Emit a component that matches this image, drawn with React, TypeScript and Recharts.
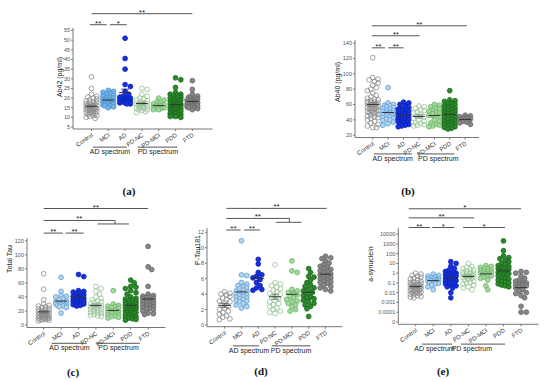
import { ScatterChart, Scatter, XAxis, YAxis, ReferenceLine, ErrorBar } from 'recharts'

const GROUPS = ['Control', 'MCI', 'AD', 'PD-NC', 'PD-MCI', 'PDD', 'FTD']

// Ab42 (pg/ml), one list per group in GROUPS order
const AB42_CONTROL = [31, 25, 22, 21, 20.5, 20, 19.5, 19, 18.5, 18, 18, 17.5, 17, 17, 16.5, 16.5, 16, 16, 15.5, 15.5, 15, 15, 15, 14.5, 14.5, 14, 14, 14, 13.5, 13.5, 13, 13, 12.5, 12.5, 12, 12, 11.5, 11, 11, 10.5, 10, 9.5]
const AB42_MCI = [24, 23.5, 23, 22.5, 22, 21.5, 21, 20.5, 20, 20, 19.5, 19, 19, 18.5, 18.5, 18, 18, 17.5, 17.5, 17, 17, 16.5, 16.5, 16, 16, 15.5, 15]
const AB42_AD = [51, 40.5, 35, 27, 26, 23.5, 22, 21, 20.5, 20, 20, 19.5, 19.5, 19, 19, 18.5, 18.5, 18, 18, 17.5, 17.5, 17, 17]
const AB42_PDNC = [25, 24.5, 22, 21, 20, 19.5, 19, 18.5, 18, 17.5, 17, 17, 16.5, 16, 16, 15.5, 15.5, 15, 15, 14.5, 14, 14, 13.5, 13, 12.5]
const AB42_PDMCI = [20, 19, 18, 17.5, 17, 16.5, 16, 16, 15.5, 15.5, 15, 15, 14.5, 14.5, 14, 14]
const AB42_PDD = [30.5, 29.5, 25.5, 23, 22, 22, 21.5, 21, 20.5, 20, 20, 19.5, 19, 19, 18.5, 18.5, 18, 18, 17.5, 17.5, 17, 17, 17, 16.5, 16.5, 16, 16, 16, 15.5, 15.5, 15, 15, 15, 14.5, 14.5, 14, 14, 14, 13.5, 13.5, 13, 13, 12.5, 12.5, 12, 12, 11.5, 11.5, 11, 11, 10.5, 10.5, 10]
const AB42_FTD = [29, 24.5, 22, 21, 20.5, 20, 20, 19.5, 19, 19, 18.5, 18.5, 18, 18, 17.5, 17.5, 17, 17, 16.5, 16.5, 16, 16, 15.5, 15.5, 15, 15, 14.5, 14]

// Ab40 (pg/ml)
const AB40_CONTROL = [121, 95, 93, 92, 90, 88, 85, 82, 80, 78, 75, 72, 70, 68, 67, 66, 65, 64, 63, 62, 62, 61, 60, 60, 59, 58, 58, 57, 56, 55, 55, 54, 53, 52, 52, 51, 50, 50, 49, 48, 47, 46, 45, 44, 43, 42, 40, 38, 36, 34, 32, 30, 30]
const AB40_MCI = [82, 62, 60, 59, 58, 57, 56, 55, 54, 53, 52, 51, 50, 50, 49, 48, 47, 46, 45, 44, 43, 42, 41, 40, 39, 37, 35, 33]
const AB40_AD = [63, 62, 60, 58, 56, 55, 54, 53, 52, 50, 49, 48, 47, 46, 45, 44, 43, 42, 41, 40, 40, 39, 38, 37, 36, 35, 34, 33, 32, 31]
const AB40_PDNC = [58, 57, 55, 53, 52, 50, 49, 47, 45, 44, 42, 40, 38, 36, 35, 34, 33, 32]
const AB40_PDMCI = [60, 59, 57, 55, 54, 52, 51, 50, 49, 48, 46, 45, 44, 40, 38, 36, 34, 33, 32, 31]
const AB40_PDD = [78, 66, 65, 64, 62, 61, 60, 58, 57, 56, 55, 54, 53, 52, 51, 50, 49, 48, 47, 46, 45, 44, 43, 42, 41, 40, 39, 38, 37, 36, 35, 34, 33, 32, 31, 30, 29, 28]
const AB40_FTD = [46, 45, 44, 43, 42, 41, 40, 40, 39, 38, 37, 36, 34]

// Total Tau
const TAU_CONTROL = [73, 51, 36, 30, 28, 27, 26, 25, 24, 23, 22, 21, 20, 19, 18, 18, 17, 16, 16, 15, 15, 14, 14, 13, 13, 12, 12, 11, 11, 10, 10, 9, 9, 8, 8, 7, 7, 6]
const TAU_MCI = [68, 48, 42, 41, 40, 38, 36, 34, 33, 32, 31, 30, 30, 29, 28, 28, 27, 26, 25, 17]
const TAU_AD = [72, 69, 49, 48, 47, 46, 45, 43, 41, 40, 39, 38, 37, 36, 35, 34, 33, 32, 31, 30, 29, 28, 27]
const TAU_PDNC = [55, 52, 48, 44, 40, 38, 36, 34, 33, 32, 30, 29, 28, 27, 26, 25, 24, 23, 22, 21, 20, 19, 18, 17, 16, 15, 14, 13, 12]
const TAU_PDMCI = [49, 30, 28, 27, 26, 25, 24, 22, 21, 20, 19, 18, 17, 16, 15, 14, 13, 12, 11, 10]
const TAU_PDD = [64, 60, 55, 54, 52, 49, 46, 44, 40, 38, 37, 36, 35, 34, 33, 32, 31, 30, 29, 28, 27, 26, 25, 24, 24, 23, 22, 22, 21, 20, 20, 19, 18, 18, 17, 16, 15, 14, 13, 12, 11, 10, 9, 8, 7]
const TAU_FTD = [112, 83, 79, 55, 44, 42, 41, 40, 39, 38, 37, 36, 35, 34, 33, 32, 31, 30, 29, 28, 27, 26, 25, 24, 23, 22, 20, 17, 16, 15]

// P-Tau181
const PTAU_CONTROL = [4.3, 4.1, 4.0, 3.9, 3.7, 3.5, 3.3, 3.1, 3.0, 2.8, 2.6, 2.4, 2.2, 2.0, 1.8, 1.6, 1.4, 1.2, 1.0, 0.8, 0.7]
const PTAU_MCI = [10.9, 6.5, 6.4, 5.5, 5.3, 5.1, 5.0, 4.8, 4.7, 4.5, 4.4, 4.3, 4.2, 4.1, 4.0, 3.9, 3.8, 3.7, 3.6, 3.5, 3.4, 3.3, 3.2, 3.1, 3.0, 2.8, 2.6, 2.4, 2.2]
const PTAU_AD = [8.5, 7.9, 6.8, 6.5, 6.3, 6.1, 5.9, 5.5, 5.1, 4.8, 4.6, 4.5]
const PTAU_PDNC = [7.8, 5.5, 5.3, 5.1, 4.9, 4.7, 4.5, 4.3, 4.1, 4.0, 3.8, 3.6, 3.4, 3.2, 3.0, 2.8, 2.6, 2.4, 2.2, 2.0, 1.8, 1.6, 1.5]
const PTAU_PDMCI = [8.3, 7.0, 6.8, 4.6, 4.4, 4.2, 4.0, 3.9, 3.7, 3.5, 3.3, 3.1, 3.0, 2.8, 2.6, 2.4, 2.0, 1.8]
const PTAU_PDD = [7.3, 6.8, 6.3, 6.2, 5.8, 5.5, 5.2, 5.0, 4.8, 4.6, 4.4, 4.2, 4.0, 3.8, 3.6, 3.5, 3.4, 3.2, 3.0, 2.8, 2.6, 2.4, 2.1, 1.1]
const PTAU_FTD = [8.9, 8.7, 8.6, 8.3, 8.0, 7.8, 7.6, 7.5, 7.3, 7.2, 7.0, 6.9, 6.8, 6.6, 6.5, 6.4, 6.2, 6.1, 6.0, 5.9, 5.7, 5.6, 5.5, 5.4, 5.2, 5.0, 4.8, 4.6, 4.4]

// a-synuclein (plotted on a log axis)
const SYN_CONTROL = [1, 0.8, 0.6, 0.5, 0.4, 0.3, 0.25, 0.2, 0.16, 0.13, 0.11, 0.1, 0.09, 0.08, 0.07, 0.065, 0.06, 0.055, 0.05, 0.045, 0.042, 0.04, 0.037, 0.034, 0.03, 0.028, 0.025, 0.022, 0.02, 0.018, 0.016, 0.014, 0.012, 0.011, 0.01, 0.009, 0.008, 0.007, 0.006, 0.005, 0.004, 0.0035, 0.003]
const SYN_MCI = [0.8, 0.6, 0.5, 0.4, 0.35, 0.3, 0.27, 0.25, 0.22, 0.2, 0.19, 0.18, 0.16, 0.15, 0.14, 0.12, 0.1, 0.09, 0.08, 0.06, 0.04, 0.02]
const SYN_AD = [15, 10, 5, 3, 2, 1.5, 1.2, 1, 0.8, 0.7, 0.6, 0.5, 0.45, 0.4, 0.35, 0.3, 0.25, 0.2, 0.18, 0.15, 0.12, 0.1, 0.08, 0.06, 0.05, 0.04, 0.03, 0.01, 0.003]
const SYN_PDNC = [10, 5, 4, 3, 2.5, 2, 1.6, 1.3, 1.1, 1, 0.9, 0.8, 0.7, 0.6, 0.55, 0.5, 0.45, 0.4, 0.35, 0.3, 0.25, 0.2, 0.15, 0.12, 0.1, 0.08, 0.06, 0.04, 0.03, 0.02]
const SYN_PDMCI = [6, 5, 4, 3, 2.5, 2, 1.8, 1.5, 1.3, 1.1, 1, 0.9, 0.8, 0.7, 0.6, 0.5, 0.4, 0.3, 0.2, 0.05, 0.02]
const SYN_PDD = [2000, 200, 60, 40, 30, 20, 15, 10, 8, 6, 5, 4, 3.5, 3, 2.5, 2, 1.8, 1.6, 1.4, 1.2, 1, 0.9, 0.8, 0.7, 0.6, 0.5, 0.4, 0.3, 0.25, 0.2, 0.15, 0.12, 0.1, 0.08, 0.06, 0.05, 0.04]
const SYN_FTD = [1.5, 1.2, 1, 0.5, 0.3, 0.2, 0.15, 0.12, 0.1, 0.08, 0.07, 0.06, 0.05, 0.04, 0.03, 0.02, 0.015, 0.01, 0.008, 0.005, 0.003, 0.0004, 0.0001, 0.0001]

const COLORS = [
  { fill: 'none', stroke: '#8a8a8a' },
  { fill: '#b5d4ee', stroke: '#5a9ed6' },
  { fill: '#1432e0', stroke: '#0b1fb0' },
  { fill: 'none', stroke: '#96c396' },
  { fill: '#a3d99e', stroke: '#6bb265' },
  { fill: '#2b8a2b', stroke: '#1a661a' },
  { fill: '#878787', stroke: '#666666' },
]

type Seg = { x1: number; x2: number; y1: number; y2?: number; text?: string; below?: boolean; hide?: boolean }

// spread points of one group sideways so they don't pile on top of each other
function swarm(vals: number[], gi: number, pxX: number, pxY: number) {
  const offs = [0, 1.8, -1.8, 3.6, -3.6, 5.3, -5.3]
  const placed: { dx: number; py: number }[] = []
  return vals.map((v) => {
    const py = v * pxY
    let best = 0
    let bestD = -1
    for (const o of offs) {
      let d = Infinity
      for (const p of placed) d = Math.min(d, Math.hypot(p.dx - o, p.py - py))
      if (d >= 4.2) { best = o; break }
      if (d > bestD) { bestD = d; best = o }
    }
    placed.push({ dx: best, py })
    return { x: gi + best / pxX, y: v }
  })
}

function stats(vals: number[]) {
  const n = vals.length
  const m = vals.reduce((a, b) => a + b, 0) / n
  const sd = Math.sqrt(vals.reduce((a, b) => a + (b - m) ** 2, 0) / (n - 1))
  return { m, sem: sd / Math.sqrt(n) }
}

function XTick(props: any) {
  const { x, y, payload } = props
  const tx = x + 2
  const ty = y + 3
  return (
    <text x={tx} y={ty} transform={`rotate(-35 ${tx} ${ty})`} textAnchor="end" fontSize={6} fill="#333">
      {GROUPS[payload.value]}
    </text>
  )
}

function Panel(p: {
  left: number; top: number; width: number; height: number
  margin: { top: number; right: number; bottom: number; left: number }
  yWidth: number; xDomain: [number, number]; yDomain: [number, number]; yTicks: number[]
  yFmt?: (v: number) => string; groups: number[][]; log?: boolean; segs: Seg[]; mciFill?: string
}) {
  const plotW = p.width - p.margin.left - p.margin.right - p.yWidth
  const plotH = p.height - p.margin.top - p.margin.bottom - 20
  const pxX = plotW / (p.xDomain[1] - p.xDomain[0])
  const pxY = plotH / (p.yDomain[1] - p.yDomain[0])
  const series = p.groups.map((g) => (p.log ? g.map((v) => Math.log10(v)) : g))
  const means = series.map((g, i) => {
    const s = stats(g)
    return { x: i, y: s.m, err: s.sem }
  })
  return (
    <div style={{ position: 'absolute', left: p.left, top: p.top }}>
      <ScatterChart width={p.width} height={p.height} margin={p.margin}>
        <XAxis type="number" dataKey="x" domain={p.xDomain} ticks={[0, 1, 2, 3, 4, 5, 6]} interval={0}
          tick={XTick} tickSize={2} height={20} stroke="#777" allowDataOverflow />
        <YAxis type="number" dataKey="y" domain={p.yDomain} ticks={p.yTicks} interval={0} width={p.yWidth}
          tickSize={2} tickMargin={1} tick={{ fontSize: 5.5, fill: '#555' }} tickFormatter={p.yFmt} stroke="#777" allowDataOverflow />
        {series.map((g, i) => {
          const c = i === 1 && p.mciFill ? { fill: p.mciFill, stroke: '#4a90d0' } : COLORS[i]
          return (
            <Scatter key={GROUPS[i]} data={swarm(g, i, pxX, pxY)} isAnimationActive={false}
              shape={(s: any) => <circle cx={s.cx} cy={s.cy} r={2.4} fill={c.fill} stroke={c.stroke} strokeWidth={0.8} />} />
          )
        })}
        <Scatter data={means} isAnimationActive={false}
          shape={(s: any) => <line x1={s.cx - 6} x2={s.cx + 6} y1={s.cy} y2={s.cy} stroke="#333" strokeWidth={1} />}>
          <ErrorBar dataKey="err" direction="y" width={4} stroke="#333" strokeWidth={0.8} />
        </Scatter>
        {p.segs.map((s, i) => (
          <ReferenceLine key={i} ifOverflow="visible"
            segment={[{ x: s.x1, y: s.y1 }, { x: s.x2, y: s.y2 ?? s.y1 }]}
            stroke={s.hide ? 'none' : s.below ? '#444' : '#555'} strokeWidth={1}
            label={s.text ? {
              value: s.text, position: s.below ? 'bottom' : 'top', offset: s.below ? 2 : -1,
              fontSize: s.below ? 7 : 8, fill: '#222',
            } : undefined} />
        ))}
      </ScatterChart>
    </div>
  )
}

const fmtLog = (v: number) => (v === -5 ? '0' : v >= 0 ? String(10 ** v) : (10 ** v).toFixed(-v))

const ylab = (text: string, x: number, y: number) => (
  <div style={{ position: 'absolute', left: x, top: y, transform: 'translate(-50%, -50%) rotate(-90deg)', fontSize: 7, color: '#222', whiteSpace: 'nowrap' }}>{text}</div>
)
const tag = (text: string, x: number, y: number) => (
  <div style={{ position: 'absolute', left: x, top: y, transform: 'translate(-50%, -50%)', fontFamily: '"Liberation Serif", "DejaVu Serif", serif', fontWeight: 'bold', fontSize: 11, color: '#111' }}>{text}</div>
)

export default function App() {
  return (
    <div style={{ position: 'absolute', left: 0, top: 0, width: 550, height: 382, background: '#fff', fontFamily: '"Liberation Sans", Arial, sans-serif', overflow: 'hidden' }}>
      <Panel left={0} top={0} width={275} height={200} margin={{ top: 28, right: 62.5, bottom: 51, left: 20 }} yWidth={53}
        xDomain={[-1.1, 7.2]} yDomain={[4, 56.3]} yTicks={[5, 10, 15, 20, 25, 30, 35, 40, 45, 50, 55]} mciFill="#74b3e8"
        groups={[AB42_CONTROL, AB42_MCI, AB42_AD, AB42_PDNC, AB42_PDMCI, AB42_PDD, AB42_FTD]}
        segs={[
          { x1: 0, x2: 6, y1: 63.7, text: '**' },
          { x1: -0.1, x2: 0.9, y1: 58, text: '**' },
          { x1: 1.1, x2: 2.1, y1: 58, text: '*' },
          { x1: 0.08, x2: 2.1, y1: -5.4 },
          { x1: 0.6, x2: 1.6, y1: -5.4, text: 'AD spectrum', below: true, hide: true },
          { x1: 2.75, x2: 5.1, y1: -5.4 },
          { x1: 3.45, x2: 4.45, y1: -5.4, text: 'PD spectrum', below: true, hide: true },
        ]} />
      <Panel left={275} top={0} width={275} height={200} margin={{ top: 40, right: 71, bottom: 42.5, left: 22 }} yWidth={58}
        xDomain={[-1.15, 6.9]} yDomain={[17, 144]} yTicks={[20, 40, 60, 80, 100, 120, 140]}
        groups={[AB40_CONTROL, AB40_MCI, AB40_AD, AB40_PDNC, AB40_PDMCI, AB40_PDD, AB40_FTD]}
        segs={[
          { x1: -0.05, x2: 6.1, y1: 162.5, text: '**' },
          { x1: -0.05, x2: 3.05, y1: 149.5, text: '**' },
          { x1: -0.05, x2: 0.8, y1: 133.8, text: '**' },
          { x1: 1.0, x2: 2.0, y1: 133.8, text: '**' },
          { x1: 0.08, x2: 2.55, y1: -4.4 },
          { x1: 0.8, x2: 1.8, y1: -4.4, text: 'AD spectrum', below: true, hide: true },
          { x1: 2.93, x2: 5.3, y1: -4.4 },
          { x1: 3.76, x2: 4.76, y1: -4.4, text: 'PD spectrum', below: true, hide: true },
        ]} />
      <Panel left={0} top={185} width={183} height={197} margin={{ top: 53, right: 17.5, bottom: 34.5, left: 2 }} yWidth={25}
        xDomain={[-0.96, 7]} yDomain={[-3.5, 124]} yTicks={[0, 20, 40, 60, 80, 100, 120]}
        groups={[TAU_CONTROL, TAU_MCI, TAU_AD, TAU_PDNC, TAU_PDMCI, TAU_PDD, TAU_FTD]}
        segs={[
          { x1: 0, x2: 6, y1: 166, text: '**' },
          { x1: 0, x2: 4.1, y1: 149, text: '**' },
          { x1: 3.1, x2: 4.9, y1: 144 },
          { x1: 4.1, x2: 4.1, y1: 144, y2: 149 },
          { x1: 0, x2: 1.1, y1: 131, text: '**' },
          { x1: 1.25, x2: 2.3, y1: 131, text: '**' },
          { x1: 0.46, x2: 2.47, y1: -26 },
          { x1: 0.98, x2: 1.98, y1: -26, text: 'AD spectrum', below: true, hide: true },
          { x1: 3.05, x2: 5.53, y1: -26 },
          { x1: 3.8, x2: 4.8, y1: -26, text: 'PD spectrum', below: true, hide: true },
        ]} />
      <Panel left={183} top={185} width={183} height={197} margin={{ top: 43, right: 23.7, bottom: 35.3, left: 2 }} yWidth={22}
        xDomain={[-1.05, 7]} yDomain={[-0.22, 12.56]} yTicks={[0, 2, 4, 6, 8, 10, 12]}
        groups={[PTAU_CONTROL, PTAU_MCI, PTAU_AD, PTAU_PDNC, PTAU_PDMCI, PTAU_PDD, PTAU_FTD]}
        segs={[
          { x1: 0.1, x2: 6.07, y1: 15.1, text: '**' },
          { x1: 0.1, x2: 3.85, y1: 13.8, text: '**' },
          { x1: 3.05, x2: 4.58, y1: 13.3 },
          { x1: 3.85, x2: 3.85, y1: 13.3, y2: 13.8 },
          { x1: 0.1, x2: 0.95, y1: 12.3, text: '**' },
          { x1: 1.15, x2: 2.1, y1: 12.3, text: '**' },
          { x1: 0.5, x2: 2.04, y1: -2.7 },
          { x1: 0.95, x2: 1.95, y1: -2.7, text: 'AD spectrum', below: true, hide: true },
          { x1: 2.8, x2: 5.1, y1: -2.7 },
          { x1: 3.45, x2: 4.45, y1: -2.7, text: 'PD spectrum', below: true, hide: true },
        ]} />
      <Panel left={366} top={185} width={184} height={197} margin={{ top: 42.8, right: 11.4, bottom: 37.7, left: 2 }} yWidth={30.3}
        xDomain={[-0.99, 7]} yDomain={[-5.24, 4.65]} yTicks={[-5, -4, -3, -2, -1, 0, 1, 2, 3, 4]} yFmt={fmtLog} log
        groups={[SYN_CONTROL, SYN_MCI, SYN_AD, SYN_PDNC, SYN_PDMCI, SYN_PDD, SYN_FTD]}
        segs={[
          { x1: -0.4, x2: 6.0, y1: 6.6, text: '*' },
          { x1: -0.4, x2: 3.34, y1: 5.67, text: '**' },
          { x1: -0.4, x2: 0.81, y1: 4.68, text: '**' },
          { x1: 0.95, x2: 2.2, y1: 4.68, text: '*' },
          { x1: 2.7, x2: 5.09, y1: 4.68, text: '*' },
          { x1: 0.36, x2: 2.07, y1: -7.27 },
          { x1: 0.57, x2: 1.57, y1: -7.27, text: 'AD spectrum', below: true, hide: true },
          { x1: 2.58, x2: 5.09, y1: -7.27 },
          { x1: 2.7, x2: 3.7, y1: -7.27, text: 'PD spectrum', below: true, hide: true },
        ]} />
      {ylab('Ab42 (pg/ml)', 58.5, 77)}
      {ylab('Ab40 (pg/ml)', 337, 82)}
      {ylab('Total Tau', 8.5, 259)}
      {ylab('P-Tau181', 197, 250)}
      {ylab('a-synuclein', 369.5, 264)}
      {tag('(a)', 129, 191)}
      {tag('(b)', 408, 191)}
      {tag('(c)', 73, 372)}
      {tag('(d)', 261, 371)}
      {tag('(e)', 443, 371)}
    </div>
  )
}
